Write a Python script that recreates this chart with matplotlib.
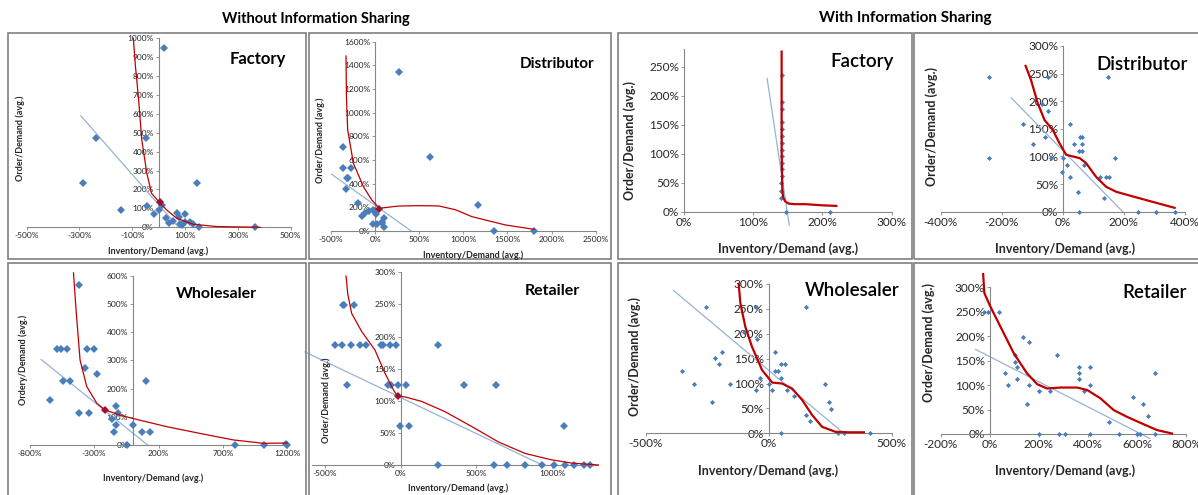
import matplotlib.pyplot as plt
from matplotlib.patches import Rectangle

plt.rcParams['font.family'] = ['Lato', 'DejaVu Sans']

W, H = 1198, 495

# ---------------- Without information sharing ----------------
# Factory
fw_x = [20, -237, -50, -285, 144, -143, -44, -18, 0, 11, 28, 40, 56, 68, 75, 81, 100, 100, 119, 131, 154, 365, 87]
fw_y = [950, 475, 475, 235, 235, 92, 115, 70, 92, 118, 48, 25, 35, 74, 56, 18, 70, 30, 30, 18, 0, 0, 12]
fw_hi = (5, 135)
fw_fit_x = [-295, 75]
fw_fit_y = [590, 0]
fw_cur_x = [-96, -88, -77, -64, -45, -27, 0, 30, 68, 131, 220, 384]
fw_cur_y = [1000, 850, 691, 462, 286, 180, 136, 92, 48, 16, 4, 0]

# Distributor
dw_x = [270, -367, -367, -273, -322, -303, -330, 625, 1163, 1352, 1803, -189, -152, -19, 11, -19, 19, 76, 106, 106, 83, -110, -65]
dw_y = [1340, 713, 535, 535, 451, 445, 355, 628, 220, 0, 0, 239, 127, 177, 141, 59, 59, 79, 107, 31, 65, 150, 165]
dw_hi = (49, 183)
dw_fit_x = [-492, 409]
dw_fit_y = [479, 0]
dw_cur_x = [-330, -325, -311, -246, -133, -38, 49, 265, 500, 720, 909, 1098, 1477, 1803]
dw_cur_y = [1479, 1135, 854, 572, 375, 262, 192, 211, 214, 212, 180, 121, 51, 14]

# Wholesaler
ww_x = [-414, -590, -556, -507, -357, -297, -367, -277, -543, -486, -641, -414, -336, -129, -111, -163, -142, -129, -41, 0, 70, 137, 101, 794, 1021, 1200, 1190]
ww_y = [567, 341, 341, 341, 341, 341, 274, 250, 228, 228, 159, 113, 113, 138, 115, 92, 46, 71, 0, 71, 46, 46, 228, 0, 0, 0, 4]
ww_hi = (-215, 124)
ww_fit_x = [-711, 116]
ww_fit_y = [303, 0]
ww_cur_x = [-460, -440, -409, -357, -279, -215, -98, 0, 264, 522, 781, 1014, 1200]
ww_cur_y = [610, 478, 301, 207, 148, 124, 106, 94, 65, 41, 18, 6, 7]

# Retailer
rw_x = [-383, -372, -306, -434, -390, -328, -269, -231, -130, -115, -70, -33, 244, -355, -81, -64, -20, 33, 416, 630, -4, 57, 1077, 244, 615, 700, 824, 936, 1011, 1086, 1148, 1209, 1251]
rw_y = [249, 249, 249, 187, 187, 187, 187, 187, 187, 187, 187, 187, 187, 124, 124, 124, 124, 124, 124, 124, 61, 61, 61, 0, 0, 0, 0, 0, 0, 0, 0, 0, 0]
rw_hi = (-20, 107)
rw_fit_x = [-632, 936]
rw_fit_y = [176, 0]
rw_cur_x = [-361, -350, -324, -258, -170, -104, -48, -20, 29, 139, 293, 469, 645, 822, 998, 1130, 1306]
rw_cur_y = [294, 267, 236, 208, 179, 143, 117, 107, 106, 99, 83, 60, 36, 18, 8, 3, 0]

# ---------------- With information sharing ----------------
fi_x = [142, 142, 142, 142, 142, 142, 142, 142, 141, 141, 141, 141, 140, 140, 140, 147, 211]
fi_y = [236, 190, 177, 154, 142, 130, 119, 107, 96, 84, 73, 61, 50, 36, 23, 0, 0]
fi_fit_x = [120, 152]
fi_fit_y = [230, -23]
fi_cur_x = [141, 141, 141, 142, 143, 146, 151, 160, 175, 200, 220]
fi_cur_y = [276, 200, 100, 40, 26, 18, 14, 13, 13, 11, 10]

di_x = [-243, -243, -48, 147, -48, 25, 35, 55, 63, 63, 52, 63, -38, 0, 171, 13, -2, 25, 123, 142, 151, 49, 136, 52, 246, 306, 368, -60, -98, -68, -131, 68]
di_y = [243, 98, 243, 243, 182, 158, 122, 135, 135, 122, 110, 110, 98, 98, 98, 84, 72, 62, 62, 62, 62, 36, 24, 0, 0, 0, 0, 135, 122, 195, 158, 84]
di_fit_x = [-169, 196]
di_fit_y = [206, 0]
di_cur_x = [-122, -104, -82, -60, -33, -11, 11, 33, 55, 76, 109, 142, 175, 240, 306, 366]
di_cur_y = [264, 238, 196, 166, 148, 124, 103, 100, 97, 88, 63, 45, 36, 26, 16, 7]

wi_x = [-255, -50, 152, -102, -47, -190, -217, -201, -353, -303, -231, -156, -37, -50, 0, 14, 27, 27, 38, 50, 68, 50, 75, 104, 152, 166, 228, 244, 255, 282, 307, 50, 410]
wi_y = [253, 253, 253, 204, 190, 164, 151, 139, 126, 100, 62, 100, 112, 88, 100, 88, 164, 126, 126, 139, 139, 112, 88, 75, 37, 25, 100, 62, 49, 0, 0, 0, 0]
wi_fit_x = [-387, 305]
wi_fit_y = [287, 0]
wi_cur_x = [-122, -115, -95, -68, -27, 14, 54, 95, 136, 176, 217, 271, 326, 387]
wi_cur_y = [300, 261, 214, 174, 127, 102, 100, 90, 67, 37, 13, 3, 2, 2]

ri_x = [-24, -8, 37, 136, 162, 101, 101, 111, 64, 111, 75, 162, 200, 247, 152, 200, 274, 284, 308, 363, 363, 363, 410, 410, 383, 410, 485, 526, 584, 623, 645, 600, 611, 672, 672]
ri_y = [249, 249, 249, 199, 188, 162, 148, 136, 124, 112, 100, 100, 87, 87, 61, 0, 162, 0, 0, 136, 124, 112, 136, 100, 87, 0, 25, 0, 75, 61, 37, 0, 0, 124, 0]
ri_fit_x = [-58, 652]
ri_fit_y = [173, -9]
ri_cur_x = [-27, -22, 3, 43, 98, 152, 193, 234, 288, 356, 397, 451, 505, 560, 627, 682, 743]
ri_cur_y = [327, 288, 260, 220, 165, 124, 102, 93, 95, 95, 90, 73, 49, 35, 20, 8, 1]

BLUE = '#4a7ebb'
FIT = '#95b3d7'
RED = '#c00000'
GREY = '#868686'

fig = plt.figure(figsize=(W / 100, H / 100), dpi=100)


def rect(x0, y0, x1, y1):
    return [x0 / W, 1 - y1 / H, (x1 - x0) / W, (y1 - y0) / H]


def ftext(x, y, s, **kw):
    fig.text(x / W, 1 - y / H, s, ha='center', va='center', **kw)


def frame(x0, y0, x1, y1):
    fig.patches.append(Rectangle((x0 / W, 1 - y1 / H), (x1 - x0) / W, (y1 - y0) / H,
                                 transform=fig.transFigure, fill=False,
                                 edgecolor='#7f7f7f', lw=1.2))


def panel(area, xlim, ylim, xticks, yticks, px, py, fx, fy, cx, cy, small, hi=None):
    ax = fig.add_axes(rect(*area))
    ax.patch.set_alpha(0)
    ax.set_xlim(xlim)
    ax.set_ylim(ylim)
    for s in ['top', 'right']:
        ax.spines[s].set_visible(False)
    ax.spines['left'].set_position(('data', 0))
    for s in ['left', 'bottom']:
        ax.spines[s].set_color(GREY)
        ax.spines[s].set_linewidth(0.8)
    ax.set_xticks(xticks)
    ax.set_xticklabels([f'{t}%' for t in xticks])
    ax.set_yticks(yticks)
    ax.set_yticklabels([f'{t}%' for t in yticks])
    fs = 6 if small else 8.5
    ax.tick_params(length=2.5, width=0.6, color=GREY, labelsize=fs,
                   labelcolor='#262626', pad=1)
    ms = 4.2 if small else 2.6
    ax.plot(px, py, 'D', color=BLUE, ms=ms, mew=0, zorder=3, clip_on=False)
    ax.plot(fx, fy, color=FIT, lw=0.9, zorder=2, clip_on=False)
    ax.plot(cx, cy, color=RED, lw=0.9 if small else 1.6, zorder=4, clip_on=False)
    if hi is not None:
        ax.plot([hi[0]], [hi[1]], 'D', color='#a0102a', ms=ms, mew=0, zorder=5)
    return ax


# frames
frame(8, 33, 306, 259)
frame(309, 33, 611, 259)
frame(8, 263, 306, 500)
frame(309, 263, 611, 500)
frame(618, 33, 912, 259)
frame(914, 33, 1205, 259)
frame(618, 263, 912, 500)
frame(914, 263, 1205, 500)

# group titles
ftext(316, 19, 'Without Information Sharing', fontsize=10.5, fontweight='bold')
ftext(905, 18, 'With Information Sharing', fontsize=11, fontweight='bold')

# left group
panel((26.7, 38.3, 290.7, 227.3), (-500, 500), (0, 1000), [-500, -300, -100, 100, 300, 500],
      list(range(0, 1001, 100)), fw_x, fw_y, fw_fit_x, fw_fit_y, fw_cur_x, fw_cur_y, True, fw_hi)
panel((331, 41.7, 595.7, 231), (-500, 2500), (0, 1600), list(range(-500, 2501, 500)),
      list(range(0, 1601, 200)), dw_x, dw_y, dw_fit_x, dw_fit_y, dw_cur_x, dw_cur_y, True, dw_hi)
panel((29.7, 275.7, 287.3, 445), (-800, 1200), (0, 600), list(range(-800, 1201, 500)),
      list(range(0, 601, 100)), ww_x, ww_y, ww_fit_x, ww_fit_y, ww_cur_x, ww_cur_y, True, ww_hi)
panel((311.7, 272.3, 598.3, 465), (-588, 1306), (0, 300), [-500, 0, 500, 1000],
      list(range(0, 301, 50)), rw_x, rw_y, rw_fit_x, rw_fit_y, rw_cur_x, rw_cur_y, True, rw_hi)

# right group
panel((684, 49.3, 891.7, 211.7), (0, 300), (0, 280), [0, 100, 200, 300],
      list(range(0, 251, 50)), fi_x, fi_y, fi_fit_x, fi_fit_y, fi_cur_x, fi_cur_y, False)
panel((940.7, 46, 1185, 211.7), (-400, 400), (0, 300), list(range(-400, 401, 200)),
      list(range(0, 301, 50)), di_x, di_y, di_fit_x, di_fit_y, di_cur_x, di_cur_y, False)
panel((645.7, 284, 891.7, 433.3), (-500, 500), (0, 300), [-500, 0, 500],
      list(range(0, 301, 50)), wi_x, wi_y, wi_fit_x, wi_fit_y, wi_cur_x, wi_cur_y, False)
panel((940.7, 287.3, 1186, 434), (-200, 800), (0, 300), list(range(-200, 801, 200)),
      list(range(0, 301, 50)), ri_x, ri_y, ri_fit_x, ri_fit_y, ri_cur_x, ri_cur_y, False)

# panel titles
ftext(258, 59, 'Factory', fontsize=12, fontweight='bold')
ftext(557, 64, 'Distributor', fontsize=11, fontweight='bold')
ftext(216, 294, 'Wholesaler', fontsize=11.5, fontweight='bold')
ftext(552, 291, 'Retailer', fontsize=11.5, fontweight='bold')
ftext(862, 62, 'Factory', fontsize=13.5, fontweight='semibold')
ftext(1142, 65, 'Distributor', fontsize=13.5, fontweight='semibold')
ftext(852, 291, 'Wholesaler', fontsize=13.5, fontweight='semibold')
ftext(1155, 293, 'Retailer', fontsize=13.5, fontweight='semibold')

# axis titles
xl = 'Inventory/Demand (avg.)'
yl = 'Order/Demand (avg.)'
small_lab = dict(fontsize=6.5, fontweight='bold', color='#262626')
big_lab = dict(fontsize=9, fontweight='bold', color='#262626')
ftext(158, 251, xl, **small_lab)
ftext(20.7, 138, yl, rotation=90, **small_lab)
ftext(473, 255, xl, **small_lab)
ftext(320, 140, yl, rotation=90, **small_lab)
ftext(153, 478, xl, **small_lab)
ftext(23, 360, 'Ordery/Demand (avg.)', rotation=90, **small_lab)
ftext(458, 488, xl, **small_lab)
ftext(326, 400, yl, rotation=90, **small_lab)

ftext(788, 249, xl, **big_lab)
ftext(630, 140, yl, rotation=90, **big_lab)
ftext(1065, 249, xl, **big_lab)
ftext(932, 127, yl, rotation=90, **big_lab)
ftext(768, 471, xl, **big_lab)
ftext(635, 357, yl, rotation=90, **big_lab)
ftext(1065, 471, xl, **big_lab)
ftext(929, 343, yl, rotation=90, **big_lab)

fig.savefig('out.png', dpi=100)
